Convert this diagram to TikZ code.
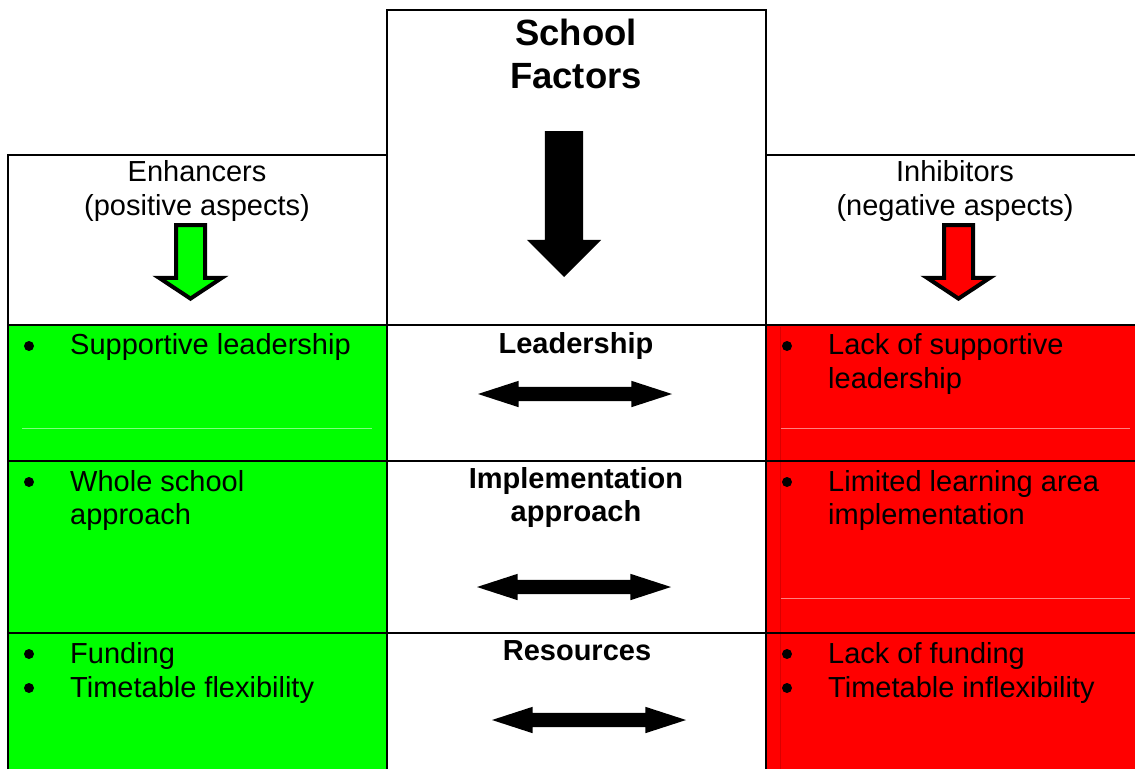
\documentclass[tikz,border=0pt]{standalone}
\usepackage{fontspec}
\setmainfont{Liberation Sans}
\usetikzlibrary{shapes.arrows}

\tikzset{
  gridline/.style={line width=1.6pt},
  itemtext/.style={font=\fontsize{29}{34}\selectfont, inner sep=0pt, anchor=base west},
  headtext/.style={font=\fontsize{29}{34}\selectfont, inner sep=0pt, anchor=base},
  bulletdot/.style={circle, fill=black, minimum size=10pt, inner sep=0pt},
  factortext/.style={font=\fontsize{29}{34}\selectfont\bfseries, inner sep=0pt, anchor=base},
  titletext/.style={font=\fontsize{36.5}{42}\selectfont\bfseries, inner sep=0pt, anchor=base},
  linkarrow/.style={double arrow, fill=black, inner xsep=0pt, inner ysep=7pt, minimum height=194pt,
    double arrow head extend=6pt, double arrow tip angle=36, outer sep=0pt},
  bigarrow/.style={single arrow, fill=black, rotate=-90, inner xsep=0pt, inner ysep=19pt, minimum height=146pt,
    single arrow head extend=18pt, single arrow tip angle=90, outer sep=0pt, anchor=tip},
  sidearrow/.style={single arrow, draw=black, line width=4pt, rotate=-90, inner xsep=0pt, inner ysep=12.5pt,
    minimum height=73.6pt, single arrow head extend=17pt, single arrow tip angle=113,
    outer sep=0pt, anchor=tip},
}

\begin{document}
\begin{tikzpicture}[x=1pt,y=-1pt]
  \useasboundingbox (0,0) rectangle (1135,769);

  % coloured cells
  \fill[green] (8,325) rectangle (387,769);
  \fill[red] (766,325) rectangle (1135,769);
  \draw[line width=0.8pt, green!50!white] (22,428) -- (372,428);
  \draw[line width=0.8pt, red!50!white] (780,428) -- (1130,428);
  \draw[line width=0.8pt, red!50!white] (780,598) -- (1130,598);
  \draw[line width=0.8pt, red!85!black] (780,327) -- (780,769);

  % grid
  \draw[gridline] (387,769) -- (387,10) -- (766,10) -- (766,769);
  \draw[gridline] (8,769) -- (8,155) -- (387,155);
  \draw[gridline] (766,155) -- (1135,155);
  \foreach \y in {325,461,633}
    \draw[gridline] (8,\y) -- (1135,\y);

  % headers
  \node[titletext] (school) at (576,45) {School};
  \node[titletext] (factors) at (576,88) {Factors};
  \node[bigarrow] (mainarrow) at (564,277) {};

  \node[headtext] (enhhead) at (197,181) {Enhancers};
  \node[headtext] (enhsub) at (197,215) {(positive aspects)};
  \node[sidearrow, fill=green] (enharrow) at (190.5,298.6) {};

  \node[headtext] (inhhead) at (955,181) {Inhibitors};
  \node[headtext] (inhsub) at (955,215) {(negative aspects)};
  \node[sidearrow, fill=red] (inharrow) at (958.5,298.6) {};

  % middle column
  \node[factortext] (lead) at (576,353) {Leadership};
  \node[factortext] (impl) at (576,488) {Implementation};
  \node[factortext] (implb) at (576,521) {approach};
  \node[factortext] (res) at (577,660) {Resources};
  \node[linkarrow] (leadarrow) at (575,394) {};
  \node[linkarrow] (implarrow) at (574,587) {};
  \node[linkarrow] (resarrow) at (589,720) {};

  % enhancers
  \foreach \y in {346,482,654,688}
    \node[bulletdot] at (29,\y) {};
  \node[itemtext] (enh1) at (70,354) {Supportive leadership};
  \node[itemtext] (enh2) at (70,491) {Whole school};
  \node[itemtext] (enh2b) at (70,524) {approach};
  \node[itemtext] (enh3) at (70,663) {Funding};
  \node[itemtext] (enh4) at (70,697) {Timetable flexibility};

  % inhibitors
  \foreach \y in {346,482,654,688}
    \node[bulletdot] at (787,\y) {};
  \node[itemtext] (inh1) at (828,354) {Lack of supportive};
  \node[itemtext] (inh1b) at (828,388) {leadership};
  \node[itemtext] (inh2) at (828,491) {Limited learning area};
  \node[itemtext] (inh2b) at (828,524) {implementation};
  \node[itemtext] (inh3) at (828,663) {Lack of funding};
  \node[itemtext] (inh4) at (828,697) {Timetable inflexibility};
\end{tikzpicture}
\end{document}
